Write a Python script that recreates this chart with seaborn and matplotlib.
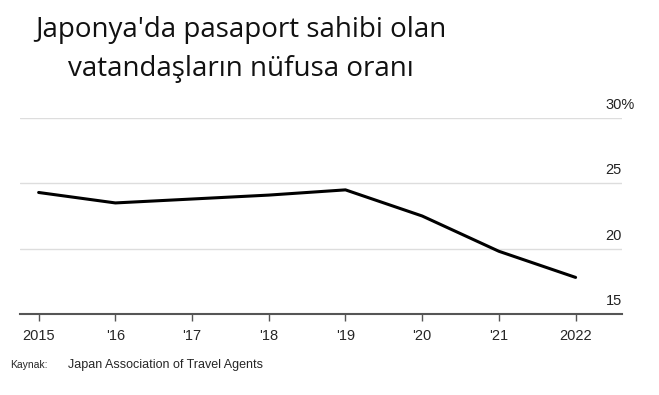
import numpy as np
import pandas as pd
import matplotlib.pyplot as plt
import seaborn as sns

years = [2015, 2016, 2017, 2018, 2019, 2020, 2021, 2022]
share = [24.3, 23.5, 23.8, 24.1, 24.5, 22.5, 19.8, 17.8]
tick_labels = ["2015", "'16", "'17", "'18", "'19", "'20", "'21", "2022"]
y_ticks = [15, 20, 25, 30]
y_labels = ["15", "20", "25", "30%"]

df = pd.DataFrame({"year": years, "share": share})

sns.set_style("white")
fig = plt.figure(figsize=(6.59, 3.95), dpi=100)
ax = fig.add_axes([20/659, 1-314/395, 602/659, 196/395])

sns.lineplot(data=df, x="year", y="share", color="black", linewidth=2.2, ax=ax)

ax.set_xlim(2014.757, 2022.605)
ax.set_ylim(15, 30)
ax.set_xlabel("")
ax.set_ylabel("")

# gridlines, except at bottom (axis line)
for v in y_ticks[1:]:
    ax.axhline(v, color="#dddddd", linewidth=1, zorder=0)

for s in ["top", "right", "left"]:
    ax.spines[s].set_visible(False)
ax.spines["bottom"].set_color("#555555")
ax.spines["bottom"].set_linewidth(1.5)

ax.set_xticks(years)
ax.set_xticklabels(tick_labels, fontsize=10.5, family="Liberation Sans")
ax.tick_params(axis="x", direction="out", length=5, width=1, color="#555555", pad=6, bottom=True)
ax.set_yticks([])

trans = ax.get_yaxis_transform()
for v, lab in zip(y_ticks, y_labels):
    if lab.endswith("%"):
        ax.text(0.9718, v + 0.45, lab, ha="left", va="bottom", transform=trans,
                fontsize=10.5, family="Liberation Sans", color="#222222")
    else:
        ax.text(1.0, v + 0.45, lab, ha="right", va="bottom", transform=trans,
                fontsize=10.5, family="Liberation Sans", color="#222222")

fig.text(0.366, 0.925, "Japonya'da pasaport sahibi olan", ha="center", va="center",
         fontsize=20, family="Open Sans", color="#111111")
fig.text(0.366, 0.825, "vatandaşların nüfusa oranı", ha="center", va="center",
         fontsize=20, family="Open Sans", color="#111111")

fig.text(10/659, 1-365/395, "Kaynak:", fontsize=7.5, family="Liberation Sans", va="center")
fig.text(68/659, 1-365/395, "Japan Association of Travel Agents", fontsize=9, family="Liberation Sans", va="center")

fig.savefig("out.png", dpi=100)
